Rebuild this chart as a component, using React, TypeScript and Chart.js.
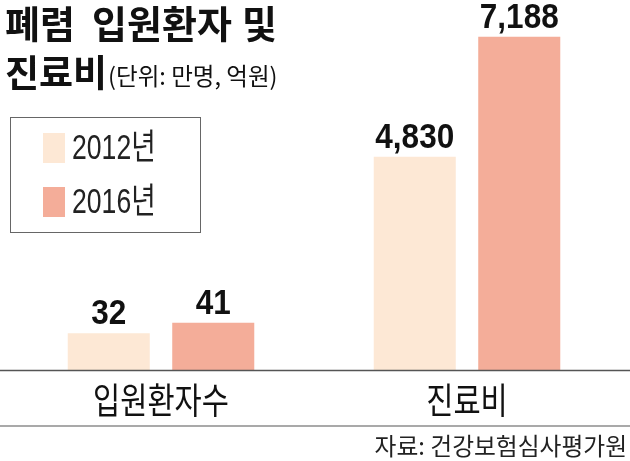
import React, { useEffect, useRef } from "react";
import { Chart, registerables } from "chart.js";

Chart.register(...registerables);

const categories = ["입원환자수", "진료비"];
const seriesLabels = ["2012년", "2016년"];
const series2012 = [32, 4830];
const series2016 = [41, 7188];
const titleWords = ["폐렴", "입원환자", "및"];
const titleLine2 = "진료비";
const unitText = "(단위: 만명, 억원)";
const sourceText = "자료: 건강보험심사평가원";

const COLOR_2012 = "#FDE8D5";
const COLOR_2016 = "#F4AD99";
const FONT = '"Noto Sans CJK KR", "Noto Sans", sans-serif';
const NUMFONT = '"Liberation Sans", "Noto Sans CJK KR", sans-serif';

function drawScaled(
  ctx: CanvasRenderingContext2D,
  text: string,
  x: number,
  y: number,
  sx: number,
  font: string,
  align: CanvasTextAlign,
  baseline: CanvasTextBaseline,
  color: string
) {
  ctx.save();
  ctx.font = font;
  ctx.fillStyle = color;
  ctx.textAlign = align;
  ctx.textBaseline = baseline;
  ctx.translate(x, y);
  ctx.scale(sx, 1);
  ctx.fillText(text, 0, 0);
  ctx.restore();
}

const decorPlugin = {
  id: "decor",
  afterDatasetsDraw(chart: any) {
    const ctx: CanvasRenderingContext2D = chart.ctx;
    const xScale = chart.scales.x;
    const base = chart.chartArea.bottom;
    const W = chart.width;

    // axis line and bottom rule
    ctx.save();
    ctx.strokeStyle = "#555";
    ctx.lineWidth = 1.5;
    ctx.beginPath();
    ctx.moveTo(0, base + 0.5);
    ctx.lineTo(W, base + 0.5);
    ctx.stroke();
    ctx.lineWidth = 1.2;
    ctx.beginPath();
    ctx.moveTo(0, 426);
    ctx.lineTo(W, 426);
    ctx.stroke();
    ctx.restore();

    // value labels
    chart.data.datasets.forEach((ds: any, di: number) => {
      const meta = chart.getDatasetMeta(di);
      meta.data.forEach((bar: any, i: number) => {
        const v = ds.data[i];
        if (v === null || v === undefined) return;
        drawScaled(
          ctx,
          Number(v).toLocaleString("en-US"),
          bar.x,
          bar.y - 9,
          0.9,
          `bold 35px ${NUMFONT}`,
          "center",
          "alphabetic",
          "#111"
        );
      });
    });

    // category labels
    categories.forEach((c, i) => {
      drawScaled(ctx, c, xScale.getPixelForValue(i), 400, 0.82, `36px ${FONT}`, "center", "middle", "#111");
    });

    // title
    const wordX = [5, 92, 242];
    titleWords.forEach((w, i) => {
      drawScaled(ctx, w, wordX[i], 24, 1, `bold 38px ${FONT}`, "left", "middle", "#111");
    });
    drawScaled(ctx, titleLine2, 5, 73, 1, `bold 37px ${FONT}`, "left", "middle", "#111");
    ctx.save();
    ctx.font = `bold 37px ${FONT}`;
    const w2 = ctx.measureText(titleLine2).width;
    ctx.restore();
    drawScaled(ctx, unitText, 5 + w2 + 1, 76, 0.98, `24px ${FONT}`, "left", "middle", "#111");

    // legend box
    ctx.save();
    ctx.strokeStyle = "#666";
    ctx.lineWidth = 1;
    ctx.strokeRect(10.5, 117.5, 190, 115);
    ctx.fillStyle = COLOR_2012;
    ctx.fillRect(43, 133, 22, 30);
    ctx.fillStyle = COLOR_2016;
    ctx.fillRect(43, 187, 22, 30);
    ctx.restore();
    drawScaled(ctx, seriesLabels[0], 72, 149, 0.76, `35px ${NUMFONT}`, "left", "middle", "#222");
    drawScaled(ctx, seriesLabels[1], 72, 203, 0.76, `35px ${NUMFONT}`, "left", "middle", "#222");

    // source
    drawScaled(ctx, sourceText, 627, 446, 0.99, `24px ${FONT}`, "right", "middle", "#222");
  },
};

export default function App() {
  const ref = useRef<HTMLCanvasElement | null>(null);
  useEffect(() => {
    if (!ref.current) return;
    const mask = (arr: number[], idx: number) => arr.map((v, i) => (i === idx ? v : null));
    const chart = new Chart(ref.current, {
      type: "bar",
      data: {
        labels: categories,
        datasets: [
          { label: seriesLabels[0], data: mask(series2012, 0), yAxisID: "y2", backgroundColor: COLOR_2012 },
          { label: seriesLabels[1], data: mask(series2016, 0), yAxisID: "y2", backgroundColor: COLOR_2016 },
          { label: seriesLabels[0], data: mask(series2012, 1), yAxisID: "y", backgroundColor: COLOR_2012 },
          { label: seriesLabels[1], data: mask(series2016, 1), yAxisID: "y", backgroundColor: COLOR_2016 },
        ] as any,
      },
      options: {
        animation: false,
        responsive: false,
        devicePixelRatio: 1,
        skipNull: true,
        categoryPercentage: 0.683,
        barPercentage: 0.785,
        layout: { padding: { left: 8, right: 10, top: 20, bottom: 91 } },
        plugins: { legend: { display: false }, tooltip: { enabled: false }, title: { display: false } },
        scales: {
          x: { display: false },
          y: { display: false, min: 640, max: 7518 },
          y2: { display: false, min: 0, max: 304 },
        },
      } as any,
      plugins: [decorPlugin],
    });
    return () => chart.destroy();
  }, []);
  return (
    <div style={{ position: "fixed", left: 0, top: 0, width: 630, height: 461, background: "#fff" }}>
      <canvas ref={ref} width={630} height={461} />
    </div>
  );
}
